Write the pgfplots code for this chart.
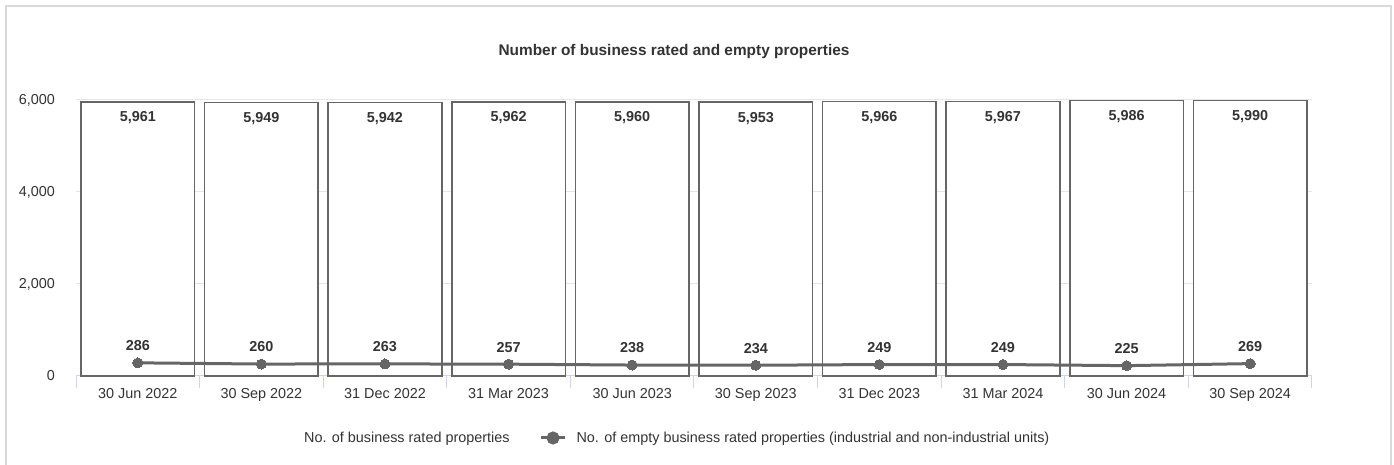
\documentclass[border=0pt]{standalone}
\usepackage{pgfplots}
\pgfplotsset{compat=1.18}
\usepackage{fontspec}
\setmainfont{Liberation Sans}

\definecolor{txt}{HTML}{333333}
\definecolor{barc}{HTML}{666666}
\definecolor{gridc}{HTML}{E6E6E6}
\definecolor{axc}{HTML}{CCD6EB}
\definecolor{framec}{HTML}{D9D9D9}

\begin{document}
\begin{tikzpicture}[x=1pt,y=1pt]
\useasboundingbox (0,0) rectangle (1394,465);
\draw[framec, line width=2pt] (6,-5) -- (6,459) -- (1391,459) -- (1391,-5);
\node[font=\fontsize{15.4}{18}\selectfont\bfseries, text=txt] at (674,413) {Number of business rated and empty properties};
\begin{axis}[
    at={(76pt,89pt)}, anchor=south west,
    scale only axis,
    width=1236pt, height=276pt,
    xmin=-0.5, xmax=9.5,
    ymin=0, ymax=6000,
    ytick={0,2000,4000,6000},
    xtick={0,...,9},
    xticklabels={30 Jun 2022,30 Sep 2022,31 Dec 2022,31 Mar 2023,30 Jun 2023,30 Sep 2023,31 Dec 2023,31 Mar 2024,30 Jun 2024,30 Sep 2024},
    minor xtick={-0.5,0.5,...,9.5},
    axis lines*=left,
    x axis line style={draw=axc, line width=1pt},
    y axis line style={draw=none},
    ymajorgrids,
    grid style={gridc, line width=1pt},
    tick align=outside,
    major tick length=0pt,
    minor tick length=12pt,
    minor tick style={axc, line width=1pt},
    /pgf/number format/1000 sep={,},
    /pgf/number format/assume math mode=true,
    tick label style={font=\fontsize{14.4}{17}\selectfont, text=txt},
    yticklabel style={anchor=east, inner sep=0pt, xshift=-21pt},
    xticklabel style={anchor=north, inner sep=0pt, yshift=-12pt},
    legend style={draw=none, fill=none, at={(0.482,-0.2246)}, anchor=center,
        font=\fontsize{14.4}{17}\selectfont, text=txt,
        /tikz/every even column/.append style={column sep=28pt}},
    legend columns=2,
    legend cell align=left,
    clip=false,
]
\addplot[ybar, bar width=0.92, fill=white, draw=barc, line width=1.6pt,
    legend image code/.code={\path[draw=none, fill=none] (0pt,-4pt) rectangle (10pt,4pt);},
    nodes near coords,
    every node near coord/.append style={anchor=north, inner sep=0pt, yshift=-9pt,
        font=\fontsize{14.4}{17}\selectfont\bfseries, text=txt}]
coordinates {
(0,5961) (1,5949) (2,5942) (3,5962) (4,5960)
(5,5953) (6,5966) (7,5967) (8,5986) (9,5990)
};
\addlegendentry{No. of business rated properties}
\addplot[barc, line width=3pt, mark=*, mark size=5pt, mark options={fill=barc, draw=barc, line width=0pt},
    legend image code/.code={\draw[barc, line width=3pt] (0pt,0pt) -- (24pt,0pt);
        \fill[barc] (12pt,0pt) circle (5pt);
        \path (32pt,0pt);},
    nodes near coords,
    every node near coord/.append style={anchor=south, inner sep=0pt, yshift=12pt,
        font=\fontsize{14.4}{17}\selectfont\bfseries, text=txt}]
coordinates {
(0,286) (1,260) (2,263) (3,257) (4,238)
(5,234) (6,249) (7,249) (8,225) (9,269)
};
\addlegendentry{No. of empty business rated properties (industrial and non-industrial units)}
\end{axis}
\end{tikzpicture}
\end{document}
